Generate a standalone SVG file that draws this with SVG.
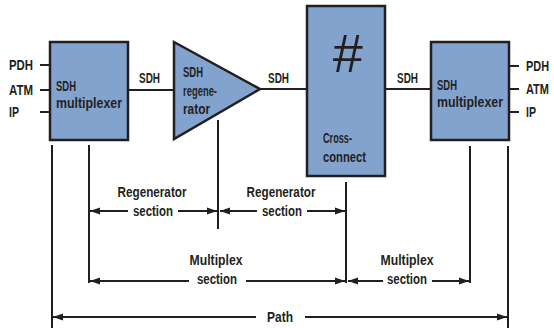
<svg xmlns="http://www.w3.org/2000/svg" width="554" height="328" viewBox="0 0 554 328">
<defs>
<style>
.box{fill:#83a3cf;stroke:#231f20;stroke-width:2.5}
.ln{stroke:#231f20;stroke-width:2;fill:none}
.t{font-family:"Liberation Sans","Arial",sans-serif;font-weight:bold;font-size:14.5px;fill:#231f20}
.c{text-anchor:middle}
</style>
<marker id="ah" markerUnits="userSpaceOnUse" markerWidth="11" markerHeight="8" refX="10" refY="4" orient="auto-start-reverse">
<path d="M0,0.5 L10,4 L0,7.5 Z" fill="#231f20"/>
</marker>
</defs>
<rect width="554" height="328" fill="#fff"/>

<g id="connectors">
<line class="ln" x1="40" y1="65" x2="50" y2="65"/>
<line class="ln" x1="40" y1="90" x2="50" y2="90"/>
<line class="ln" x1="40" y1="112" x2="50" y2="112"/>
<line class="ln" x1="509" y1="66" x2="519" y2="66"/>
<line class="ln" x1="509" y1="89" x2="519" y2="89"/>
<line class="ln" x1="509" y1="112" x2="519" y2="112"/>
<line class="ln" x1="128" y1="90" x2="174" y2="90"/>
<line class="ln" x1="260" y1="89" x2="307" y2="89"/>
<line class="ln" x1="385" y1="89" x2="432" y2="89"/>
<text class="t" x="139" y="83" textLength="21" lengthAdjust="spacingAndGlyphs">SDH</text>
<text class="t" x="268" y="83" textLength="21" lengthAdjust="spacingAndGlyphs">SDH</text>
<text class="t" x="397" y="83" textLength="21" lengthAdjust="spacingAndGlyphs">SDH</text>
</g>

<g id="mux-left">
<rect class="box" x="50" y="42" width="78" height="98"/>
<text class="t" x="56" y="91" textLength="20" lengthAdjust="spacingAndGlyphs">SDH</text>
<text class="t" x="56" y="108" textLength="66" lengthAdjust="spacingAndGlyphs">multiplexer</text>
<text class="t" x="9" y="70" textLength="24" lengthAdjust="spacingAndGlyphs">PDH</text>
<text class="t" x="9" y="95" textLength="24" lengthAdjust="spacingAndGlyphs">ATM</text>
<text class="t" x="9" y="117" textLength="10" lengthAdjust="spacingAndGlyphs">IP</text>
</g>

<g id="regenerator">
<polygon class="box" points="174,42 260,89 174,139"/>
<text class="t" x="183" y="77" textLength="20" lengthAdjust="spacingAndGlyphs">SDH</text>
<text class="t" x="183" y="96" textLength="34" lengthAdjust="spacingAndGlyphs">regene-</text>
<text class="t" x="183" y="114" textLength="27" lengthAdjust="spacingAndGlyphs">rator</text>
</g>

<g id="cross-connect">
<rect class="box" x="307" y="6" width="78" height="170"/>
<text x="347" y="72" text-anchor="middle" font-family="Liberation Sans,sans-serif" font-style="italic" font-size="54" fill="#231f20">#</text>
<text class="t" x="323" y="143" textLength="29" lengthAdjust="spacingAndGlyphs">Cross-</text>
<text class="t" x="323" y="162" textLength="43" lengthAdjust="spacingAndGlyphs">connect</text>
</g>

<g id="mux-right">
<rect class="box" x="431" y="42" width="78" height="98"/>
<text class="t" x="437" y="90" textLength="20" lengthAdjust="spacingAndGlyphs">SDH</text>
<text class="t" x="437" y="107" textLength="66" lengthAdjust="spacingAndGlyphs">multiplexer</text>
<text class="t" x="549" y="71" text-anchor="end" textLength="23" lengthAdjust="spacingAndGlyphs">PDH</text>
<text class="t" x="549" y="94" text-anchor="end" textLength="23" lengthAdjust="spacingAndGlyphs">ATM</text>
<text class="t" x="526" y="117" textLength="10" lengthAdjust="spacingAndGlyphs">IP</text>
</g>

<g id="sections">
<line class="ln" x1="52" y1="145" x2="52" y2="328"/>
<line class="ln" x1="89" y1="145" x2="89" y2="283"/>
<line class="ln" x1="218" y1="120" x2="218" y2="229"/>
<line class="ln" x1="346" y1="182" x2="346" y2="283"/>
<line class="ln" x1="470" y1="146" x2="470" y2="283"/>
<line class="ln" x1="508" y1="146" x2="508" y2="328"/>

<line class="ln" x1="128" y1="211" x2="90" y2="211" marker-end="url(#ah)"/>
<line class="ln" x1="178" y1="211" x2="217" y2="211" marker-end="url(#ah)"/>
<text class="t c" x="152" y="197" textLength="69" lengthAdjust="spacingAndGlyphs">Regenerator</text>
<text class="t c" x="153" y="216" textLength="40" lengthAdjust="spacingAndGlyphs">section</text>

<line class="ln" x1="257" y1="211" x2="220" y2="211" marker-end="url(#ah)"/>
<line class="ln" x1="307" y1="211" x2="345" y2="211" marker-end="url(#ah)"/>
<text class="t c" x="281" y="197" textLength="69" lengthAdjust="spacingAndGlyphs">Regenerator</text>
<text class="t c" x="282" y="216" textLength="40" lengthAdjust="spacingAndGlyphs">section</text>

<line class="ln" x1="189" y1="281" x2="90" y2="281" marker-end="url(#ah)"/>
<line class="ln" x1="246" y1="281" x2="345" y2="281" marker-end="url(#ah)"/>
<text class="t c" x="216" y="265" textLength="53" lengthAdjust="spacingAndGlyphs">Multiplex</text>
<text class="t c" x="217" y="284" textLength="40" lengthAdjust="spacingAndGlyphs">section</text>

<line class="ln" x1="383" y1="281" x2="348" y2="281" marker-end="url(#ah)"/>
<line class="ln" x1="432" y1="281" x2="469" y2="281" marker-end="url(#ah)"/>
<text class="t c" x="407" y="265" textLength="53" lengthAdjust="spacingAndGlyphs">Multiplex</text>
<text class="t c" x="407" y="284" textLength="40" lengthAdjust="spacingAndGlyphs">section</text>

<line class="ln" x1="256" y1="317" x2="53" y2="317" marker-end="url(#ah)"/>
<line class="ln" x1="305" y1="317" x2="507" y2="317" marker-end="url(#ah)"/>
<text class="t c" x="280" y="322" textLength="26" lengthAdjust="spacingAndGlyphs">Path</text>
</g>
</svg>
